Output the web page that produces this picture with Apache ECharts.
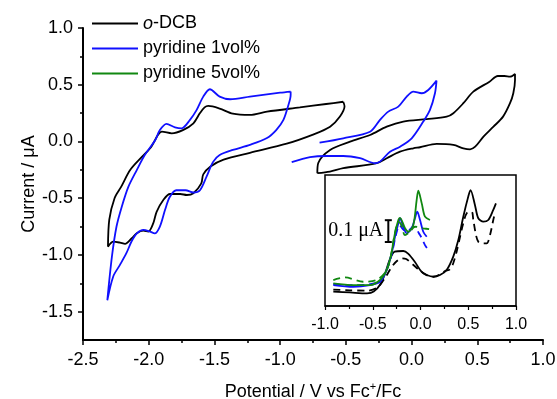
<!DOCTYPE html>
<html>
<head>
<meta charset="utf-8">
<script src="https://cdn.jsdelivr.net/npm/echarts@6/dist/echarts.min.js"></script>
<style>
  html, body { margin: 0; padding: 0; background: #fff; }
  #chart { width: 557px; height: 399px; }
</style>
</head>
<body>
<div id="chart"></div>
<script>
// CV curves: [potential (V vs Fc+/Fc), current (uA)]
var dcbCvLeft = [
  [-0.52, 0.35], [-0.51, 0.31], [-0.545, 0.22], [-0.62, 0.13], [-0.75, 0.06], [-0.95, -0.02],
  [-1.23, -0.10], [-1.43, -0.16], [-1.53, -0.22], [-1.585, -0.29], [-1.60, -0.37], [-1.66, -0.457],
  [-1.71, -0.472], [-1.76, -0.463], [-1.838, -0.463], [-1.889, -0.516], [-1.94, -0.62], [-1.965, -0.72],
  [-2.003, -0.795], [-2.041, -0.786], [-2.091, -0.809], [-2.129, -0.853], [-2.18, -0.903], [-2.218, -0.892],
  [-2.269, -0.883], [-2.31, -0.927],
  [-2.30, -0.69], [-2.26, -0.50], [-2.21, -0.40], [-2.14, -0.25], [-2.05, -0.134], [-1.98, -0.046],
  [-1.93, 0.057], [-1.90, 0.086], [-1.825, 0.072], [-1.74, 0.10], [-1.66, 0.16], [-1.61, 0.25],
  [-1.575, 0.30], [-1.547, 0.313], [-1.46, 0.29], [-1.36, 0.245], [-1.23, 0.234], [-1.10, 0.263],
  [-0.85, 0.30], [-0.65, 0.33], [-0.52, 0.35]
];
var dcbCvRight = [
  [-0.717, -0.28], [-0.71, -0.19], [-0.62, -0.075], [-0.468, -0.002], [-0.316, 0.057], [-0.189, 0.13],
  [-0.063, 0.175], [0.115, 0.196], [0.267, 0.218], [0.318, 0.249], [0.394, 0.337], [0.47, 0.439],
  [0.593, 0.527], [0.656, 0.577], [0.707, 0.577], [0.749, 0.571], [0.787, 0.595], [0.787, 0.542],
  [0.774, 0.425], [0.749, 0.337], [0.696, 0.219], [0.623, 0.13], [0.547, 0.042], [0.484, -0.046],
  [0.445, -0.069], [0.394, -0.06], [0.318, -0.031], [0.191, -0.022], [0.064, -0.051], [0.013, -0.06],
  [-0.088, -0.09], [-0.189, -0.148], [-0.265, -0.192], [-0.52, -0.236], [-0.621, -0.266], [-0.717, -0.28]
];
var pyr1CvLeft = [
  [-0.92, 0.44], [-0.92, 0.41], [-0.94, 0.31], [-0.975, 0.19], [-1.03, 0.10], [-1.10, 0.03],
  [-1.23, -0.03], [-1.36, -0.075], [-1.46, -0.12], [-1.51, -0.18], [-1.56, -0.31], [-1.61, -0.43],
  [-1.66, -0.45], [-1.72, -0.43], [-1.79, -0.43], [-1.84, -0.49], [-1.875, -0.60], [-1.915, -0.75],
  [-1.955, -0.81], [-1.99, -0.795], [-2.04, -0.78], [-2.09, -0.81], [-2.13, -0.88], [-2.17, -0.985],
  [-2.22, -1.09], [-2.27, -1.19], [-2.315, -1.40],
  [-2.28, -1.015], [-2.245, -0.75], [-2.205, -0.575], [-2.155, -0.40], [-2.09, -0.25], [-2.03, -0.12],
  [-1.95, 0.013], [-1.915, 0.10], [-1.865, 0.155], [-1.80, 0.125], [-1.75, 0.116], [-1.686, 0.19],
  [-1.635, 0.278], [-1.585, 0.395], [-1.535, 0.46], [-1.46, 0.395], [-1.38, 0.372], [-1.23, 0.395],
  [-1.00, 0.43], [-0.92, 0.44]
];
var pyr1CvRight = [
  [-0.70, -0.011], [-0.52, 0.028], [-0.316, 0.086], [-0.24, 0.19], [-0.177, 0.263], [-0.101, 0.307],
  [-0.037, 0.395], [0.013, 0.439], [0.077, 0.425], [0.127, 0.454], [0.19, 0.536], [0.178, 0.425],
  [0.14, 0.278], [0.089, 0.175], [0.001, 0.028], [-0.088, -0.046], [-0.164, -0.09], [-0.24, -0.178],
  [-0.278, -0.192], [-0.392, -0.148], [-0.52, -0.128], [-0.646, -0.128], [-0.773, -0.139], [-0.912, -0.183]
];

// inset (relative current, uA)
var dcbInset = [
  [-0.913, 0.066], [-0.74, 0.062], [-0.56, 0.058], [-0.49, 0.066], [-0.42, 0.10], [-0.37, 0.15],
  [-0.32, 0.215], [-0.27, 0.249], [-0.18, 0.252], [-0.13, 0.24], [-0.06, 0.203], [0.01, 0.157],
  [0.065, 0.142], [0.134, 0.134], [0.204, 0.142], [0.274, 0.165], [0.343, 0.226], [0.396, 0.302],
  [0.448, 0.409], [0.50, 0.501], [0.524, 0.531], [0.57, 0.463], [0.605, 0.402], [0.658, 0.386],
  [0.71, 0.394], [0.762, 0.44], [0.79, 0.47]
];
var dcbInsetDash = [
  [-0.913, 0.075], [-0.74, 0.072], [-0.56, 0.07], [-0.45, 0.085], [-0.37, 0.13], [-0.30, 0.18],
  [-0.25, 0.205], [-0.197, 0.218], [-0.15, 0.215], [-0.08, 0.19], [0.0, 0.16], [0.07, 0.14],
  [0.134, 0.134], [0.204, 0.145], [0.257, 0.16], [0.309, 0.168], [0.343, 0.196], [0.379, 0.25],
  [0.414, 0.317], [0.448, 0.379], [0.484, 0.425], [0.536, 0.432], [0.553, 0.394], [0.581, 0.325],
  [0.605, 0.295], [0.65, 0.287], [0.693, 0.287], [0.728, 0.325], [0.762, 0.394], [0.78, 0.425]
];
var pyr1Inset = [
  [-0.913, 0.096], [-0.704, 0.088], [-0.529, 0.096], [-0.424, 0.111], [-0.354, 0.165], [-0.302, 0.241],
  [-0.267, 0.317], [-0.232, 0.379], [-0.215, 0.402], [-0.18, 0.363], [-0.145, 0.333], [-0.092, 0.356],
  [-0.058, 0.402], [-0.034, 0.432], [-0.005, 0.394], [0.029, 0.34], [0.065, 0.317]
];
var pyr1InsetDash = [
  [-0.913, 0.10], [-0.70, 0.095], [-0.53, 0.10], [-0.42, 0.115], [-0.35, 0.17], [-0.30, 0.24],
  [-0.26, 0.32], [-0.22, 0.37], [-0.18, 0.35], [-0.145, 0.34], [-0.075, 0.363], [-0.005, 0.325],
  [0.047, 0.279], [0.082, 0.257]
];
var pyr5Inset = [
  [-0.913, 0.104], [-0.704, 0.096], [-0.529, 0.096], [-0.424, 0.119], [-0.354, 0.165], [-0.312, 0.226],
  [-0.267, 0.333], [-0.232, 0.394], [-0.215, 0.404], [-0.162, 0.356], [-0.128, 0.34], [-0.075, 0.371],
  [-0.04, 0.486], [-0.023, 0.528], [0.013, 0.47], [0.047, 0.409], [0.099, 0.394]
];
var pyr5InsetDash = [
  [-0.913, 0.119], [-0.79, 0.131], [-0.60, 0.111], [-0.46, 0.119], [-0.36, 0.16], [-0.31, 0.23],
  [-0.27, 0.33], [-0.23, 0.385], [-0.20, 0.37], [-0.162, 0.325], [-0.11, 0.34], [-0.058, 0.363],
  [0.029, 0.356], [0.099, 0.351]
];
var scaleBar = [[-0.337, 0.293], [-0.337, 0.393]];

var yMajor = [-1.5, -1.0, -0.5, 0.0, 0.5, 1.0];
var yMinor = [-1.25, -0.75, -0.25, 0.25, 0.75];
var names = ['o-DCB', 'pyridine 1vol%', 'pyridine 5vol%'];

var FONT = 'Liberation Sans, Arial, sans-serif';
var BLACK = '#000000', BLUE = '#1010ff', GREEN = '#118811';

var chart = echarts.init(document.getElementById('chart'));

function cv(name, data, color) {
  return {
    name: name, type: 'line', data: data, xAxisIndex: 0, yAxisIndex: 0,
    symbol: 'none', smooth: 0.3, lineStyle: { color: color, width: 1.8 }, itemStyle: { color: color }
  };
}
function ins(name, data, color, dashed) {
  return {
    name: name, type: 'line', data: data, xAxisIndex: 1, yAxisIndex: 2,
    symbol: 'none', smooth: 0.3, z: 5,
    lineStyle: { color: color, width: 1.8, type: dashed ? [7, 5] : 'solid' }, itemStyle: { color: color }
  };
}

var option = {
  animation: false,
  backgroundColor: '#fff',
  legend: {
    data: names, orient: 'vertical', left: 92, top: 14, padding: 0,
    icon: 'rect', itemWidth: 46, itemHeight: 2, itemGap: 6,
    textStyle: {
      fontFamily: FONT, fontSize: 18, color: '#000', lineHeight: 19,
      rich: { i: { fontFamily: FONT, fontSize: 18, fontStyle: 'italic', color: '#000' } }
    },
    formatter: function (n) { return n === 'o-DCB' ? '{i|o}-DCB' : n; }
  },
  grid: [
    { left: 83, right: 14, top: 28, bottom: 59, outerBoundsMode: 'none' },
    { left: 325, right: 41, top: 175, bottom: 93, show: true, borderColor: '#000', borderWidth: 1.5,
      backgroundColor: '#fff', z: 3, outerBoundsMode: 'none' }
  ],
  xAxis: [
    {
      type: 'value', gridIndex: 0, min: -2.5, max: 1.0, interval: 0.5,
      name: 'Potential / V vs Fc{s|+}/Fc', nameLocation: 'middle', nameGap: 41, nameMoveOverlap: false,
      nameTextStyle: { fontFamily: FONT, fontSize: 18, color: '#000', lineHeight: 22,
        rich: { s: { fontFamily: FONT, fontSize: 11, color: '#000', verticalAlign: 'top', lineHeight: 11 } } },
      axisLine: { onZero: false, lineStyle: { color: '#000', width: 2 } },
      axisTick: { length: 5, lineStyle: { color: '#000', width: 1.5 } },
      minorTick: { show: true, splitNumber: 2, length: 3, lineStyle: { color: '#000', width: 1.5 } },
      axisLabel: { fontFamily: FONT, fontSize: 18, color: '#000', margin: 11,
        formatter: function (v) { return v.toFixed(1); } },
      splitLine: { show: false }
    },
    {
      type: 'value', gridIndex: 1, min: -1.0, max: 1.0, interval: 0.5,
      axisLine: { onZero: false, lineStyle: { color: '#000', width: 1.5 } },
      axisTick: { length: 4, lineStyle: { color: '#000', width: 1.2 } },
      minorTick: { show: true, splitNumber: 2, length: 3, lineStyle: { color: '#000', width: 1.2 } },
      axisLabel: { fontFamily: FONT, fontSize: 16, color: '#000', margin: 11,
        formatter: function (v) { return v.toFixed(1); } },
      splitLine: { show: false }, z: 6
    }
  ],
  yAxis: [
    {
      type: 'value', gridIndex: 0, min: -1.75, max: 1.0,
      name: 'Current / μA', nameLocation: 'middle', nameGap: 45, nameMoveOverlap: false,
      nameTextStyle: { fontFamily: FONT, fontSize: 18, color: '#000' },
      axisLine: { onZero: false, lineStyle: { color: '#000', width: 2 } },
      axisTick: { customValues: yMajor, length: 5, lineStyle: { color: '#000', width: 1.5 } },
      axisLabel: { customValues: yMajor, fontFamily: FONT, fontSize: 18, color: '#000', margin: 10,
        formatter: function (v) { return v.toFixed(1); } },
      splitLine: { show: false }
    },
    {
      type: 'value', gridIndex: 0, min: -1.75, max: 1.0, position: 'left',
      axisLine: { show: false, onZero: false },
      axisTick: { customValues: yMinor, length: 3, lineStyle: { color: '#000', width: 1.5 } },
      axisLabel: { show: false },
      splitLine: { show: false }
    },
    {
      type: 'value', gridIndex: 1, min: 0, max: 0.6,
      axisLine: { show: false }, axisTick: { show: false }, axisLabel: { show: false },
      splitLine: { show: false }
    }
  ],
  series: [
    cv(names[0], dcbCvLeft, BLACK),
    cv(names[0], dcbCvRight, BLACK),
    cv(names[1], pyr1CvLeft, BLUE),
    cv(names[1], pyr1CvRight, BLUE),
    ins(names[0], dcbInset, BLACK, false),
    ins(names[0], dcbInsetDash, BLACK, true),
    ins(names[1], pyr1Inset, BLUE, false),
    ins(names[1], pyr1InsetDash, BLUE, true),
    ins(names[2], pyr5Inset, GREEN, false),
    ins(names[2], pyr5InsetDash, GREEN, true),
    {
      type: 'line', data: scaleBar, xAxisIndex: 1, yAxisIndex: 2, z: 6,
      symbol: 'rect', symbolSize: [7, 2], showSymbol: true,
      lineStyle: { color: '#000', width: 2 }, itemStyle: { color: '#000' },
      markPoint: {
        symbol: 'circle', symbolSize: 0,
        data: [{ coord: [-0.337, 0.343] }],
        label: { show: true, position: 'left', distance: 5, formatter: '0.1 μA',
          fontFamily: 'Liberation Serif, Times New Roman, serif', fontSize: 20, color: '#000' }
      }
    }
  ]
};

chart.setOption(option);
</script>
</body>
</html>
